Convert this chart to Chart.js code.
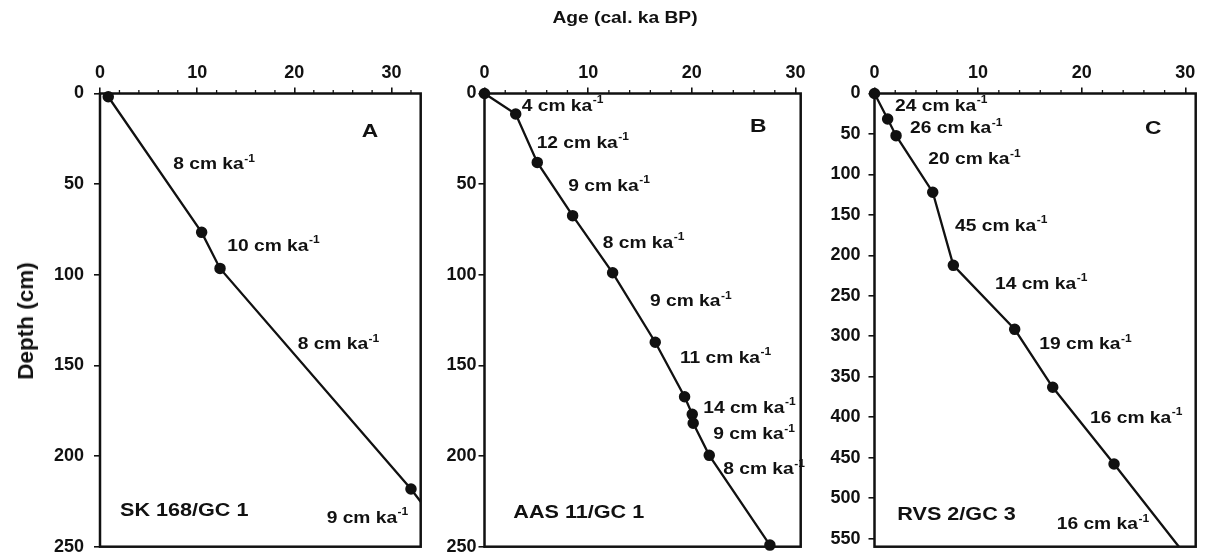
<!DOCTYPE html>
<html>
<head>
<meta charset="utf-8">
<script src="https://cdn.jsdelivr.net/npm/chart.js@4.4.0/dist/chart.umd.min.js"></script>
<style>
  body { margin: 0; background: #fff; width: 1206px; height: 560px; position: relative; overflow: hidden;
         font-family: "Liberation Sans", Arial, sans-serif; }
  canvas { position: absolute; top: 0; }
  .title { position: absolute; font-weight: bold; color: #111; white-space: nowrap; }
  #xTitle { left: 625px; top: 18px; font-size: 16px; transform: translate(-50%, -50%) scaleX(1.2); }
  #yTitle { left: 26px; top: 321px; font-size: 22.5px; transform: translate(-50%, -50%) rotate(-90deg); }
</style>
</head>
<body>
<canvas id="chartA" width="440" height="560" style="left:0px"></canvas>
<canvas id="chartB" width="380" height="560" style="left:440px"></canvas>
<canvas id="chartC" width="386" height="560" style="left:820px"></canvas>
<div class="title" id="xTitle">Age (cal. ka BP)</div>
<div class="title" id="yTitle">Depth (cm)</div>
<script>
// age (cal. ka BP) / depth (cm) of the dated levels
const ageA = [0.85, 10.46, 12.35, 32.0, 33.0];
const depthA = [1.8, 76.6, 96.5, 218.2, 225.2];
const rateA = ['8', '10', '8', '9'];

const ageB = [0, 3.01, 5.09, 8.5, 12.36, 16.47, 19.3, 20.04, 20.13, 21.68, 27.53];
const depthB = [0, 11.3, 38, 67.4, 98.9, 137.2, 167.3, 177, 181.9, 199.6, 249.1];
const rateB = ['4', '12', '9', '8', '9', '11', '14', '9', '8'];

const ageC = [0, 1.27, 2.08, 5.62, 7.61, 13.53, 17.2, 23.12, 29.38];
const depthC = [0, 31.5, 52.1, 122, 212.3, 291.4, 363, 457.8, 560];
const rateC = ['24', '26', '20', '45', '14', '19', '16', '16'];

const xTicksStep = 10;
const yTicksStep = 50;

// where the rate labels sit (data units: [age, depth])
const rateAtA = [[7.54, 39.4], [13.1, 84.5], [20.34, 138.7], [23.32, 234.3]];
const rateAtB = [[3.59, 7.3], [5.03, 27.5], [8.08, 51.4], [11.4, 82.6], [15.96, 114.9],
                 [18.85, 146.1], [21.1, 173.7], [22.06, 188.4], [23.03, 207.7]];
const rateAtC = [[1.98, 16.3], [3.43, 43.9], [5.19, 82.2], [7.77, 164.6], [11.63, 235.8],
                 [15.91, 310.8], [20.8, 401.3], [17.59, 533.2]];

const FONT = '"Liberation Sans", Arial, sans-serif';
const INK = '#111';

function stretchedText(ctx, x, y, text, size, align) {
  ctx.save();
  ctx.translate(x, y);
  ctx.scale(1.2, 1);
  ctx.font = 'bold ' + size + 'px ' + FONT;
  ctx.textBaseline = 'middle';
  ctx.textAlign = align || 'left';
  ctx.fillStyle = INK;
  ctx.fillText(text, 0, 0);
  const w = ctx.measureText(text).width;
  ctx.restore();
  return w * 1.2;
}

function rateText(ctx, x, y, rate) {
  const w = stretchedText(ctx, x, y, rate + ' cm ka', 16);
  stretchedText(ctx, x + w + 0.5, y - 6, '-1', 10);
}

// drop the room Chart.js keeps for half-labels at the axis ends
function noEndPadding(s) {
  s.paddingTop = 0;
  s.paddingBottom = 0;
  s.paddingLeft = 0;
  s.paddingRight = 0;
}

function makePanel(id, p) {
  const panelText = {
    id: 'panelText',
    beforeDatasetsDraw(chart) {
      const { ctx, chartArea: a, scales } = chart;
      ctx.save();
      ctx.strokeStyle = INK;
      ctx.lineWidth = 2.5;
      ctx.strokeRect(a.left, a.top, a.right - a.left, a.bottom - a.top);
      // minor ticks on the age axis
      ctx.lineWidth = 1.3;
      for (let v = 2; v < p.xMax; v += 2) {
        if (v % xTicksStep === 0) continue;
        const px = scales.x.getPixelForValue(v);
        ctx.beginPath();
        ctx.moveTo(px, a.top);
        ctx.lineTo(px, a.top - 3.5);
        ctx.stroke();
      }
      ctx.restore();
    },
    afterDatasetsDraw(chart) {
      const { ctx, scales } = chart;
      const X = v => scales.x.getPixelForValue(v);
      const Y = v => scales.y.getPixelForValue(v);
      p.rates.forEach((r, i) => rateText(ctx, X(p.rateAt[i][0]), Y(p.rateAt[i][1]), r));
      stretchedText(ctx, X(p.letterAt[0]), Y(p.letterAt[1]), p.letter, 19, 'center');
      stretchedText(ctx, X(p.nameAt[0]), Y(p.nameAt[1]), p.name, 18);
    }
  };

  const canvas = document.getElementById(id);
  const n = p.ages.length;
  const chart = new Chart(canvas, {
    type: 'line',
    data: {
      datasets: [{
        data: p.ages.map((a, i) => ({ x: a, y: p.depths[i] })),
        borderColor: INK,
        backgroundColor: INK,
        borderWidth: 2.3,
        pointRadius: ctx => (ctx.dataIndex === n - 1 && !p.lastDot) ? 0 : 4.6,
        pointBackgroundColor: INK,
        pointBorderColor: INK,
        tension: 0,
        clip: false
      }]
    },
    options: {
      responsive: false,
      animation: false,
      layout: { padding: { left: 0, top: 0, right: canvas.width - p.area.right, bottom: 560 - p.area.bottom } },
      plugins: { legend: { display: false }, tooltip: { enabled: false } },
      scales: {
        x: {
          type: 'linear',
          position: 'top',
          min: 0,
          max: p.xMax,
          afterFit: s => { s.height = p.xHeight; noEndPadding(s); },
          border: { display: false },
          grid: { drawOnChartArea: false, drawTicks: true, tickLength: 6, color: INK, lineWidth: 1.6 },
          ticks: { stepSize: xTicksStep, includeBounds: false, autoSkip: false, maxRotation: 0,
                   padding: 4, color: INK, font: { family: FONT, size: 18, weight: 'bold' } }
        },
        y: {
          type: 'linear',
          reverse: true,
          min: 0,
          max: p.yMax,
          afterFit: s => { s.width = p.yWidth; noEndPadding(s); },
          border: { display: false },
          grid: { drawOnChartArea: false, drawTicks: true, tickLength: 6, color: INK, lineWidth: 1.6 },
          ticks: { stepSize: yTicksStep, includeBounds: false, autoSkip: false,
                   padding: p.yPad, color: INK, font: { family: FONT, size: 18, weight: 'bold' } }
        }
      }
    },
    plugins: [panelText]
  });

  // nudge axis sizes / padding until the plot frame lands where the figure has it
  for (let k = 0; k < 4; k++) {
    const a = chart.chartArea;
    const pad = chart.options.layout.padding;
    p.yWidth += p.area.left - a.left;
    p.xHeight += p.area.top - a.top;
    pad.right += a.right - p.area.right;
    pad.bottom += a.bottom - p.area.bottom;
    chart.update();
  }
  return chart;
}

makePanel('chartA', {
  ages: ageA, depths: depthA, rates: rateA, rateAt: rateAtA, lastDot: false,
  xMax: 33, yMax: 250, yPad: 10, area: { left: 100, top: 93.5, right: 420.7, bottom: 546.7 },
  xHeight: 93.5, yWidth: 100,
  letter: 'A', letterAt: [27.78, 21.1], name: 'SK 168/GC 1', nameAt: [2.06, 230.1]
});

makePanel('chartB', {
  ages: ageB, depths: depthB, rates: rateB, rateAt: rateAtB, lastDot: true,
  xMax: 30.5, yMax: 250, yPad: 2, area: { left: 44.5, top: 93.5, right: 360.7, bottom: 546.7 },
  xHeight: 93.5, yWidth: 44.5,
  letter: 'B', letterAt: [26.4, 18.3], name: 'AAS 11/GC 1', nameAt: [2.78, 231.6]
});

makePanel('chartC', {
  ages: ageC, depths: depthC, rates: rateC, rateAt: rateAtC, lastDot: false,
  xMax: 31, yMax: 560, yPad: 8, area: { left: 54.5, top: 93.5, right: 375.7, bottom: 546.7 },
  xHeight: 93.5, yWidth: 54.5,
  letter: 'C', letterAt: [26.91, 43], name: 'RVS 2/GC 3', nameAt: [2.2, 520.8]
});
</script>
</body>
</html>
